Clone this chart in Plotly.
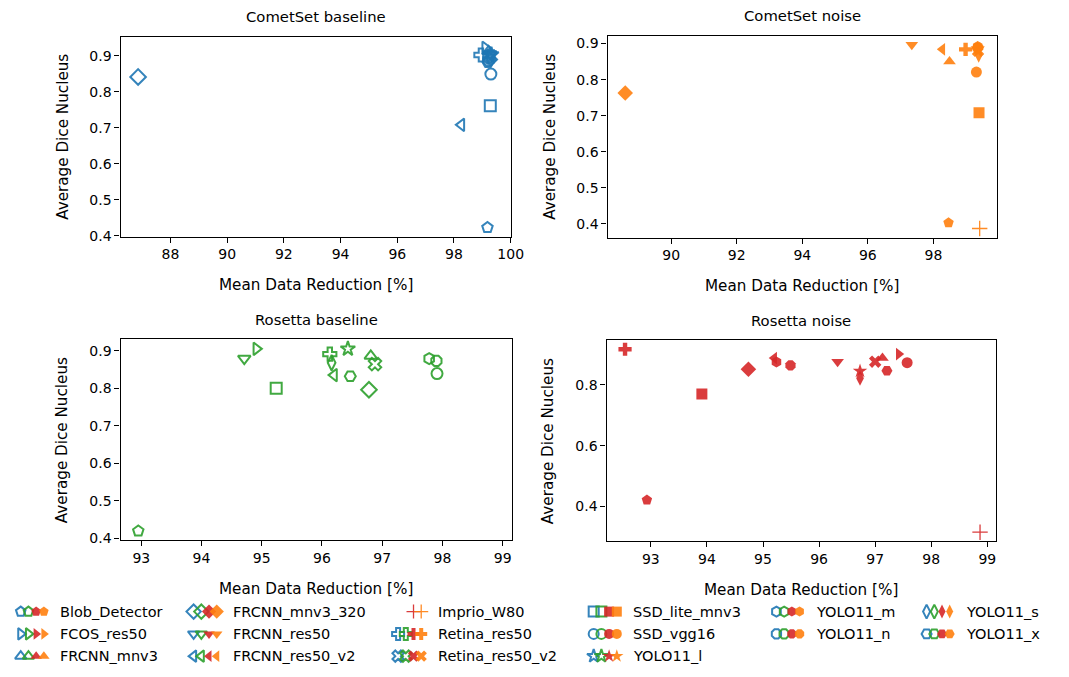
import plotly.graph_objects as go

# ---------------- data ----------------
models = ["Blob_Detector", "FCOS_res50", "FRCNN_mnv3", "FRCNN_mnv3_320", "FRCNN_res50",
          "FRCNN_res50_v2", "Imprio_W80", "Retina_res50", "Retina_res50_v2", "SSD_lite_mnv3",
          "SSD_vgg16", "YOLO11_l", "YOLO11_m", "YOLO11_n", "YOLO11_s", "YOLO11_x"]

symbols = ["pentagon", "triangle-right", "triangle-up", "diamond", "triangle-down",
           "triangle-left", "cross-thin", "cross", "x", "square",
           "circle", "star", "hexagon", "octagon", "diamond-tall", "hexagon2"]

cometset_baseline_x = [99.18, 99.10, 99.22, 86.86, 99.28, 98.26, None, 98.95, 99.30, 99.28,
                       99.30, 99.32, 99.20, 99.22, 99.27, 99.20]
cometset_baseline_y = [0.423, 0.922, 0.912, 0.841, 0.905, 0.708, None, 0.902, 0.898, 0.761,
                       0.849, 0.903, 0.893, 0.886, 0.895, 0.882]

cometset_noise_x = [98.46, 99.36, 98.49, 88.60, 97.34, 98.27, 99.41, 98.98, 99.36, 99.39,
                    99.31, 99.35, 99.35, 99.36, 99.38, 99.33]
cometset_noise_y = [0.403, 0.884, 0.850, 0.763, 0.897, 0.884, 0.387, 0.884, 0.880, 0.708,
                    0.821, 0.886, 0.892, 0.889, 0.868, 0.887]

rosetta_baseline_x = [92.95, 94.91, 96.81, 96.78, 94.71, 96.20, None, 96.13, 96.88, 95.24,
                      97.91, 96.43, 97.78, 97.90, 96.16, 96.47]
rosetta_baseline_y = [0.420, 0.905, 0.886, 0.796, 0.879, 0.835, None, 0.891, 0.864, 0.800,
                      0.839, 0.905, 0.879, 0.873, 0.868, 0.832]

rosetta_noise_x = [92.93, 97.42, 97.13, 94.74, 96.33, 95.20, 98.87, 92.54, 97.00, 93.91,
                   97.57, 96.73, 95.24, 95.49, 96.73, 97.21]
rosetta_noise_y = [0.421, 0.901, 0.888, 0.851, 0.876, 0.888, 0.315, 0.917, 0.876, 0.770,
                   0.873, 0.845, 0.875, 0.864, 0.822, 0.846]

panel_titles = ["CometSet baseline", "CometSet noise", "Rosetta baseline", "Rosetta noise"]
x_ticks = [[88, 90, 92, 94, 96, 98, 100], [90, 92, 94, 96, 98],
           [93, 94, 95, 96, 97, 98, 99], [93, 94, 95, 96, 97, 98, 99]]
y_ticks = [[0.4, 0.5, 0.6, 0.7, 0.8, 0.9], [0.4, 0.5, 0.6, 0.7, 0.8, 0.9],
           [0.4, 0.5, 0.6, 0.7, 0.8, 0.9], [0.4, 0.6, 0.8]]

# ---------------- style / layout ----------------
W, H = 1069, 677
FONT = "DejaVu Sans"
BLUE, ORANGE, GREEN, RED = "#1f77b4", "#ff7f0e", "#2ca02c", "#d62728"

panels = [
    dict(x=cometset_baseline_x, y=cometset_baseline_y, color=BLUE, open=True,
         xr=[86.24, 100.0], yr=[0.398, 0.953]),
    dict(x=cometset_noise_x, y=cometset_noise_y, color=ORANGE, open=False,
         xr=[88.06, 99.93], yr=[0.362, 0.922]),
    dict(x=rosetta_baseline_x, y=rosetta_baseline_y, color=GREEN, open=True,
         xr=[92.655, 99.15], yr=[0.395, 0.930]),
    dict(x=rosetta_noise_x, y=rosetta_noise_y, color=RED, open=False,
         xr=[92.21, 99.15], yr=[0.285, 0.946]),
]

# pixel boxes (left, right, top, bottom)
boxes = [(122, 517, 37, 239), (615, 1009, 36, 240), (122, 518, 343, 546), (614, 1008, 344, 547)]

MS = 11


def marker_for(s, color, is_open, size=MS):
    if s == "cross-thin":
        return dict(symbol=s, size=size, color=color,
                    line=dict(color=color, width=1.3), opacity=0.9)
    sz = size + 1 if s == "diamond" else size
    if is_open:
        return dict(symbol=s + "-open", size=sz, color=color,
                    line=dict(color=color, width=2), opacity=0.9)
    return dict(symbol=s, size=sz, color=color, line=dict(width=0), opacity=0.9)


fig = go.Figure()
layout = dict(width=W, height=H, margin=dict(l=0, r=0, t=0, b=0),
              paper_bgcolor="white", plot_bgcolor="rgba(0,0,0,0)", showlegend=False,
              font=dict(family=FONT, size=14, color="black"))
annotations = []

for k, p in enumerate(panels):
    n = "" if k == 0 else str(k + 1)
    l, r, t, b = boxes[k]
    xd = [l / W, r / W]
    yd = [1 - b / H, 1 - t / H]
    common = dict(showline=True, mirror=True, linecolor="black", linewidth=1.2,
                  ticks="outside", ticklen=5, tickwidth=1.2, tickcolor="black",
                  showgrid=False, zeroline=False,
                  tickfont=dict(family=FONT, size=14, color="black"))
    layout["xaxis" + n] = dict(domain=xd, range=p["xr"], anchor="y" + n,
                               tickvals=x_ticks[k], **common)
    layout["yaxis" + n] = dict(domain=yd, range=p["yr"], anchor="x" + n,
                               tickvals=y_ticks[k], tickformat=".1f", **common)
    for i, m in enumerate(models):
        if p["x"][i] is None:
            continue
        fig.add_trace(go.Scatter(x=[p["x"][i]], y=[p["y"][i]], mode="markers",
                                 xaxis="x" + n, yaxis="y" + n, name=m,
                                 marker=marker_for(symbols[i], p["color"], p["open"]),
                                 hoverinfo="name+x+y"))
    cx = (l + r) / 2 / W
    annotations.append(dict(text=panel_titles[k], x=cx, y=1 - (t - 20) / H, xref="paper",
                            yref="paper", showarrow=False, xanchor="center", yanchor="middle",
                            font=dict(family=FONT, size=14.8)))
    annotations.append(dict(text="Mean Data Reduction [%]", x=cx, y=1 - (b + 49) / H,
                            xref="paper", yref="paper", showarrow=False, xanchor="center",
                            yanchor="middle", font=dict(family=FONT, size=15.2)))
    annotations.append(dict(text="Average Dice Nucleus", x=(l - 59) / W, y=1 - (t + b) / 2 / H,
                            xref="paper", yref="paper", showarrow=False, textangle=-90,
                            xanchor="center", yanchor="middle", font=dict(family=FONT, size=15.2)))

# ---------------- custom legend (4 dataset markers per model) ----------------
legend_sets = [(cometset_baseline_x, BLUE, True), (rosetta_baseline_x, GREEN, True),
               (rosetta_noise_x, RED, False), (cometset_noise_x, ORANGE, False)]
col_x = [21, 196, 403, 601, 786, 938]
row_y = [618, 640.5, 663]
col_counts = [3, 3, 3, 3, 2, 2]
slot_dx = 7.8
layout["xaxis5"] = dict(domain=[0, 1], range=[0, W], visible=False, anchor="y5", fixedrange=True)
layout["yaxis5"] = dict(domain=[0, 1], range=[H, 0], visible=False, anchor="x5", fixedrange=True)

idx = 0
for c, cnt in enumerate(col_counts):
    for rr in range(cnt):
        i = idx
        idx += 1
        for s, (xs, color, is_open) in enumerate(legend_sets):
            if xs[i] is None:
                continue
            fig.add_trace(go.Scatter(x=[col_x[c] + s * slot_dx], y=[row_y[rr]], mode="markers",
                                     xaxis="x5", yaxis="y5", hoverinfo="skip",
                                     marker=marker_for(symbols[i], color, is_open, size=10)))
        annotations.append(dict(text=models[i], x=(col_x[c] + 38) / W, y=1 - row_y[rr] / H,
                                xref="paper", yref="paper", showarrow=False, xanchor="left",
                                yanchor="middle", font=dict(family=FONT, size=14.5)))

layout["annotations"] = annotations
fig.update_layout(**layout)
fig.write_html("out.html")
